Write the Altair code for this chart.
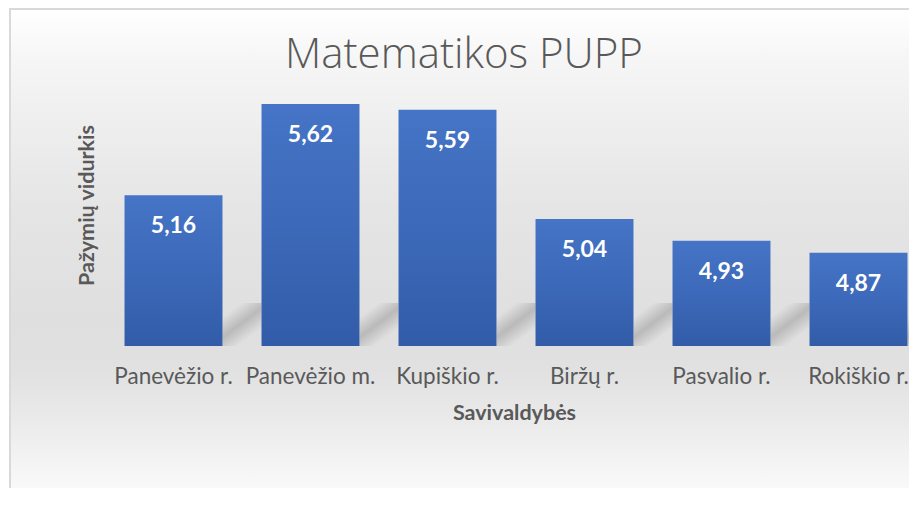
import altair as alt
import pandas as pd

categories = ["Panevėžio r.", "Panevėžio m.", "Kupiškio r.", "Biržų r.", "Pasvalio r.", "Rokiškio r."]
values = [5.16, 5.62, 5.59, 5.04, 4.93, 4.87]
labels = [f"{v:.2f}".replace(".", ",") for v in values]

title_text = "Matematikos PUPP"
x_title = "Savivaldybės"
y_title = "Pažymių vidurkis"
y_domain = [4.4, 5.7]

FONT = "Lato"
GRAY = "#595959"

df = pd.DataFrame({"cat": categories, "val": values, "lab": labels})
one = pd.DataFrame({"a": [0]})

W, H = 804, 258
xscale = alt.Scale(range=[0, 822], paddingInner=0.285, paddingOuter=0.1425)
yscale = alt.Scale(domain=y_domain, zero=False, nice=False)
xaxis = alt.Axis(
    title=None, labelAngle=0, ticks=False, domain=False, grid=False,
    labelFont=FONT, labelFontSize=22.5, labelColor=GRAY,
    labelPadding=37, labelBaseline="alphabetic",
    labelLimit=400, labelOverlap=False, zindex=2,
)
X = alt.X("cat:N", sort=categories, scale=xscale, axis=xaxis)

bg_grad = alt.Gradient(
    gradient="linear", x1=0, y1=0, x2=0, y2=1,
    stops=[
        alt.GradientStop(color="#ffffff", offset=0),
        alt.GradientStop(color="#f6f6f6", offset=0.1),
        alt.GradientStop(color="#eeeeee", offset=0.24),
        alt.GradientStop(color="#e5e5e5", offset=0.41),
        alt.GradientStop(color="#dfdfdf", offset=0.64),
        alt.GradientStop(color="#e1e1e1", offset=0.74),
        alt.GradientStop(color="#eaeaea", offset=0.84),
        alt.GradientStop(color="#f4f4f4", offset=0.93),
        alt.GradientStop(color="#fbfbfb", offset=1),
    ],
)

background = alt.Chart(one).mark_rect(
    fill=bg_grad, stroke="#d9d9d9", strokeWidth=2
).encode(
    x=alt.value(-95), x2=alt.value(820), y=alt.value(-79), y2=alt.value(410)
)

shadow_grad = alt.Gradient(
    gradient="linear", x1=0, y1=0, x2=0.775, y2=1.137,
    stops=[
        alt.GradientStop(color="rgba(140,140,140,0)", offset=0),
        alt.GradientStop(color="rgba(140,140,140,0)", offset=0.2),
        alt.GradientStop(color="rgba(140,140,140,0.45)", offset=0.48),
        alt.GradientStop(color="rgba(140,140,140,0)", offset=0.76),
        alt.GradientStop(color="rgba(140,140,140,0)", offset=1),
    ],
)

shadows = alt.Chart(df).mark_bar(
    fill=shadow_grad, width=39, xOffset=68.5
).encode(
    x=X,
    y=alt.value(215),
    y2=alt.value(258),
)

bar_grad = alt.Gradient(
    gradient="linear", x1=0, y1=0, x2=0, y2=1,
    stops=[
        alt.GradientStop(color="#4674c6", offset=0),
        alt.GradientStop(color="#3c69b9", offset=0.5),
        alt.GradientStop(color="#325ca8", offset=1),
    ],
)

bars = alt.Chart(df).mark_bar(fill=bar_grad).encode(
    x=X,
    y=alt.Y("val:Q", scale=yscale, axis=None),
    y2=alt.datum(y_domain[0]),
)

bar_labels = alt.Chart(df).mark_text(
    font=FONT, fontSize=23, fontWeight="bold", color="white",
    baseline="alphabetic", align="center", dy=38,
).encode(
    x=X,
    y=alt.Y("val:Q", scale=yscale, axis=None),
    text="lab:N",
)

title = alt.Chart(one).mark_text(
    text=title_text, font="Open Sans", fontSize=42, fontWeight=300, color=GRAY,
    baseline="alphabetic", align="center",
).encode(x=alt.value(359), y=alt.value(-19.7))

xt = alt.Chart(one).mark_text(
    text=x_title, font=FONT, fontSize=21.5, fontWeight="bold", color=GRAY,
    baseline="alphabetic", align="center",
).encode(x=alt.value(409.5), y=alt.value(332))

yt = alt.Chart(one).mark_text(
    text=y_title, font=FONT, fontSize=21.5, fontWeight="bold", color=GRAY,
    baseline="alphabetic", align="center", angle=270,
).encode(x=alt.value(-11.5), y=alt.value(117.5))

chart = alt.layer(background, shadows, bars, bar_labels, title, xt, yt).properties(
    width=W, height=H,
    autosize=alt.AutoSizeParams(type="none"),
    padding={"left": 97, "top": 80, "right": 0, "bottom": 142},
    background="white",
).configure_view(stroke=None)

chart.save("out.html", embed_options={"renderer": "svg", "actions": False})
